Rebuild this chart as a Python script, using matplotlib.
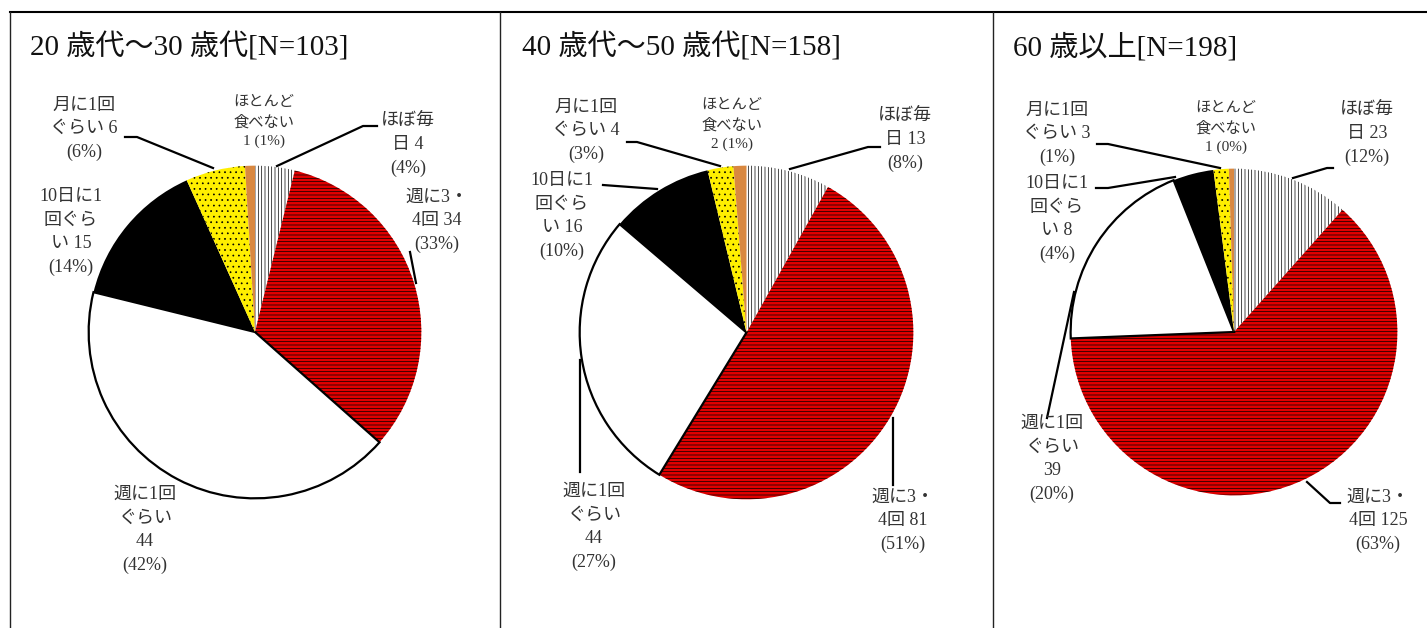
import matplotlib
matplotlib.use('Agg')
import matplotlib.pyplot as plt
import numpy as np

plt.rcParams['font.family'] = ['Liberation Serif', 'Noto Sans CJK JP']
plt.rcParams['hatch.linewidth'] = 0.5

W, H = 1427, 628

categories = ['ほぼ毎日', '週に3・4回', '週に1回ぐらい', '10日に1回ぐらい', '月に1回ぐらい', 'ほとんど食べない']
titles = ['20 歳代～30 歳代[N=103]', '40 歳代～50 歳代[N=158]', '60 歳以上[N=198]']
counts_20s = [4, 34, 44, 15, 6, 1]
counts_40s = [13, 81, 44, 16, 4, 2]
counts_60s = [23, 125, 39, 8, 3, 1]
pct_20s = [4, 33, 42, 14, 6, 1]
pct_40s = [8, 51, 27, 10, 3, 1]
pct_60s = [12, 63, 20, 4, 1, 0]

# how each label breaks across lines (as in the original)
templates = ['ほぼ毎\n日 {n}\n({p}%)',
             '週に3・\n4回 {n}\n({p}%)',
             '週に1回\nぐらい\n{n}\n({p}%)',
             '10日に1\n回ぐら\nい {n}\n({p}%)',
             '月に1回\nぐらい {n}\n({p}%)',
             'ほとんど\n食べない\n{n} ({p}%)']

faces = ['white', '#e00000', 'white', 'black', '#ffef00', '#d98840']
hatches = ['|||||', '-----', None, None, '...', None]

# layout (pixels)
panel_x = [10, 500, 993, 1427]
title_x = [30, 522, 1013]
pie_geo = [(255, 332, 168), (746.5, 332.5, 168.5), (1234, 332, 165)]
label_pos = [
    [(408, 145), (437, 221), (145, 530), (71, 232), (84, 129), (264, 122)],
    [(905, 140), (903, 521), (594, 527), (562, 216), (586, 131), (732, 125)],
    [(1367, 134), (1378, 521), (1052, 459), (1057, 219), (1057, 134), (1226, 128)],
]
leaders = [
    [[(377, 126), (363, 126), (277, 166)], [(410, 252), (416, 283)],
     [(125, 137), (137, 137), (213, 168)]],
    [[(880, 147), (868, 147), (790, 169)], [(893, 418), (893, 485)],
     [(580, 360), (580, 472)], [(603, 185), (657, 189)],
     [(627, 142), (637, 142), (720, 166)]],
    [[(1333, 168), (1327, 168), (1293, 178)], [(1340, 503), (1330, 503), (1307, 482)],
     [(1047, 418), (1074, 292)], [(1096, 188), (1108, 188), (1175, 177)],
     [(1097, 144), (1108, 144), (1220, 168)]],
]

all_counts = [counts_20s, counts_40s, counts_60s]
all_pct = [pct_20s, pct_40s, pct_60s]

fig = plt.figure(figsize=(W / 100, H / 100), dpi=100)

for k in range(3):
    cx, cy, r = pie_geo[k]
    ax = fig.add_axes([(cx - r) / W, (H - cy - r) / H, 2 * r / W, 2 * r / H])
    wedges, _ = ax.pie(all_counts[k], startangle=90, counterclock=False, radius=1)
    for i, w in enumerate(wedges):
        w.set_facecolor(faces[i])
        w.set_edgecolor('black')
        if hatches[i]:
            w.set_hatch(hatches[i])
        w.set_linewidth(1.6 if i == 2 else 0)
    ax.set_xlim(-1.01, 1.01)
    ax.set_ylim(-1.01, 1.01)

ov = fig.add_axes([0, 0, 1, 1])
ov.set_xlim(0, W)
ov.set_ylim(H, 0)
ov.axis('off')
ov.patch.set_alpha(0)

# panel frames
ov.plot([panel_x[0], panel_x[-1]], [12, 12], color='black', lw=1.5)
for x in panel_x[:-1]:
    ov.plot([x, x], [12, H], color='#222222', lw=1.0)

for k in range(3):
    ov.text(title_x[k], 47, titles[k], fontsize=21, ha='left', va='center', color='#111111')
    for i in range(len(categories)):
        txt = templates[i].format(n=all_counts[k][i], p=all_pct[k][i])
        fs = 11 if i == 5 else 13
        x, y = label_pos[k][i]
        ov.text(x, y, txt, fontsize=fs, ha='center', va='center', multialignment='center',
                linespacing=1.5, color='#333333')
    for seg in leaders[k]:
        xs, ys = zip(*seg)
        ov.plot(xs, ys, color='black', lw=1.6)

fig.savefig('out.png', dpi=100)
